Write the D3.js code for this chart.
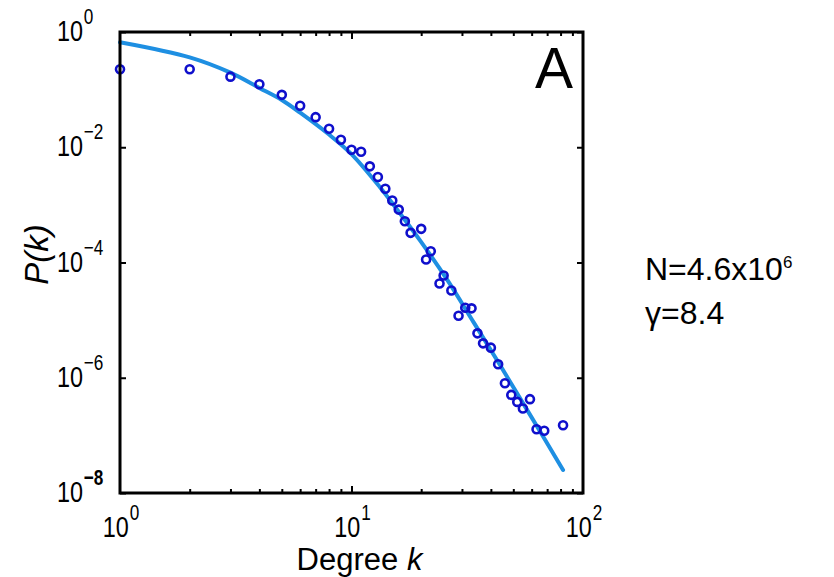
<!DOCTYPE html>
<html>
<head>
<meta charset="utf-8">
<script src="https://cdn.jsdelivr.net/npm/d3@7"></script>
<style>
  body { margin: 0; background: #fff; }
  svg text { font-family: "Liberation Sans", Arial, sans-serif; }
</style>
</head>
<body>
<svg id="chart" width="834" height="577"></svg>
<script>
// degree distribution
const degrees = [1, 2, 3, 4, 5, 6, 7, 8, 9, 10, 11, 12, 13, 14, 15, 16, 17, 18, 20, 21, 22, 24, 25, 27,
  29, 31, 33, 35, 37, 40, 43, 46, 49, 52, 55, 59, 63, 68, 82];
const probs = [0.226, 0.226, 0.168, 0.124, 0.0811, 0.0524, 0.0333, 0.0209, 0.0135, 0.00906, 0.00836,
  0.00466, 0.00305, 0.00191, 0.00119, 8.28e-4, 5.19e-4, 3.27e-4, 3.84e-4, 1.13e-4, 1.57e-4, 4.33e-5,
  5.96e-5, 3.27e-5, 1.19e-5, 1.64e-5, 1.60e-5, 5.90e-6, 3.95e-6, 3.33e-6, 1.71e-6, 8.04e-7, 5.04e-7,
  3.81e-7, 2.93e-7, 4.25e-7, 1.28e-7, 1.20e-7, 1.50e-7];

// fitted curve
const fitK = [1, 2, 3, 4, 5, 6, 8, 10, 13.3, 15.4, 19.8, 25.8, 33.6, 43.8, 59, 82];
const fitP = [0.664, 0.363, 0.197, 0.107, 0.0661, 0.0398, 0.0166, 0.00759, 2.00e-3, 9.33e-4, 2.40e-4,
  5.13e-5, 9.33e-6, 1.66e-6, 2.29e-7, 2.51e-8];

const xExponents = [0, 1, 2];
const yExponents = [0, -2, -4, -6, -8];
const xMinor = [2, 3, 4, 5, 6, 7, 8, 9, 20, 30, 40, 50, 60, 70, 80, 90];
const notes = ['N=4.6x10', 'γ=8.4'];

const margin = { top: 32, right: 251, bottom: 84, left: 120 };
const width = 834 - margin.left - margin.right;
const height = 577 - margin.top - margin.bottom;

const svg = d3.select('svg#chart')
  .append('g')
  .attr('transform', `translate(${margin.left},${margin.top})`);

const x = d3.scaleLog().domain([1, 100]).range([0, width]);
const y = d3.scaleLog().domain([1e-8, 1]).range([height, 0]);

// fitted line
svg.append('path')
  .datum(fitK.map((k, i) => [k, fitP[i]]))
  .attr('fill', 'none')
  .attr('stroke', '#1e8fe2')
  .attr('stroke-width', 4)
  .attr('stroke-linecap', 'round')
  .attr('d', d3.line().x(d => x(d[0])).y(d => y(d[1])).curve(d3.curveCatmullRom));

// data points
svg.selectAll('circle.pt')
  .data(degrees)
  .enter()
  .append('circle')
    .attr('class', 'pt')
    .attr('cx', d => x(d))
    .attr('cy', (d, i) => y(probs[i]))
    .attr('r', 4)
    .attr('fill', 'none')
    .attr('stroke', '#0f0fcc')
    .attr('stroke-width', 2.6);

// ticks, pointing inward
const tickStyle = g => {
  g.select('.domain').remove();
  g.selectAll('text').remove();
  g.selectAll('line').attr('stroke', '#000').attr('stroke-width', 2);
};

svg.append('g')
  .attr('transform', `translate(0,${height})`)
  .call(d3.axisBottom(x).tickValues(xMinor).tickSize(-4))
  .call(tickStyle);
svg.append('g')
  .attr('transform', `translate(0,${height})`)
  .call(d3.axisBottom(x).tickValues([10]).tickSize(-7))
  .call(tickStyle);
svg.append('g')
  .call(d3.axisTop(x).tickValues(xMinor).tickSize(-4))
  .call(tickStyle);
svg.append('g')
  .call(d3.axisTop(x).tickValues([10]).tickSize(-7))
  .call(tickStyle);

const yMajor = yExponents.map(e => Math.pow(10, e));
svg.append('g')
  .call(d3.axisLeft(y).tickValues(yMajor).tickSize(-6))
  .call(tickStyle);
svg.append('g')
  .attr('transform', `translate(${width},0)`)
  .call(d3.axisRight(y).tickValues(yMajor).tickSize(-6))
  .call(tickStyle);

// frame
svg.append('rect')
  .attr('width', width)
  .attr('height', height)
  .attr('fill', 'none')
  .attr('stroke', '#000')
  .attr('stroke-width', 3);

const expText = e => (e < 0 ? '\u2212' + (-e) : String(e));

// y tick labels
const yLab = svg.selectAll('text.ylab')
  .data(yExponents)
  .enter()
  .append('text')
    .attr('class', 'ylab')
    .attr('text-anchor', 'start')
    .attr('transform', d => `translate(-63,${y(Math.pow(10, d)) + 9}) scale(0.78,1)`);
yLab.append('tspan').attr('font-size', 30).text('10');
yLab.append('tspan')
  .attr('font-size', 22)
  .attr('dx', 1)
  .attr('dy', -17)
  .attr('font-weight', d => (d === -8 ? 'bold' : 'normal'))
  .text(d => expText(d));

// x tick labels
const xLab = svg.selectAll('text.xlab')
  .data(xExponents)
  .enter()
  .append('text')
    .attr('class', 'xlab')
    .attr('text-anchor', 'middle')
    .attr('transform', d => `translate(${x(Math.pow(10, d)) + 1},${height + 44}) scale(0.78,1)`);
xLab.append('tspan').attr('font-size', 30).text('10');
xLab.append('tspan').attr('font-size', 22).attr('dx', 1).attr('dy', -17).text(d => expText(d));

// axis titles
const xTitle = svg.append('text')
  .attr('x', x(10) + 8)
  .attr('y', height + 77)
  .attr('text-anchor', 'middle')
  .attr('font-size', 31);
xTitle.append('tspan').text('Degree ');
xTitle.append('tspan').attr('font-style', 'italic').text('k');

svg.append('text')
  .attr('transform', `translate(${-72},${y(1e-4) - 8}) rotate(-90)`)
  .attr('text-anchor', 'middle')
  .attr('font-size', 33)
  .attr('font-style', 'italic')
  .text('P(k)');

// panel letter
svg.append('text')
  .attr('x', width - 29)
  .attr('y', 56)
  .attr('text-anchor', 'middle')
  .attr('font-size', 57)
  .text('A');

// side notes
const noteG = d3.select('svg#chart').append('g');
const n1 = noteG.append('text')
  .attr('x', 645)
  .attr('y', 280)
  .attr('font-size', 32);
n1.append('tspan').text(notes[0]);
n1.append('tspan').attr('font-size', 17).attr('dy', -12).text('6');
noteG.append('text')
  .attr('x', 645)
  .attr('y', 324)
  .attr('font-size', 32)
  .text(notes[1]);
</script>
</body>
</html>
